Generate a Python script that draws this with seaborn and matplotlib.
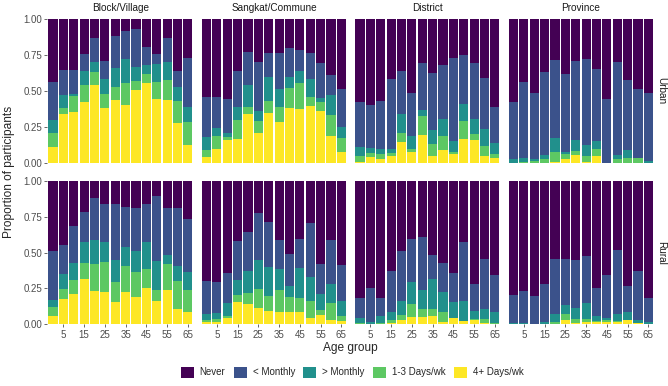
import numpy as np
import pandas as pd
import seaborn as sns
import matplotlib.pyplot as plt
from matplotlib.patches import Patch

# Age groups (bars) and labelled ticks
ages = [0, 5, 10, 15, 20, 25, 30, 35, 40, 45, 50, 55, 60, 65]
tick_ages = [5, 15, 25, 35, 45, 55, 65]

levels = ["Never", "< Monthly", "> Monthly", "1-3 Days/wk", "4+ Days/wk"]
level_colors = ["#440154", "#3B528B", "#21908C", "#5DC863", "#FDE725"]
scales = ["Block/Village", "Sangkat/Commune", "District", "Province"]
areas = ["Urban", "Rural"]

# Cumulative proportion from the bottom, per age group:
# row 0 = 4+ Days/wk, row 1 = +1-3 Days/wk, row 2 = +> Monthly, row 3 = +< Monthly (rest is Never)
urban_village = [
    [0.11, 0.34, 0.35, 0.42, 0.54, 0.38, 0.44, 0.40, 0.51, 0.555, 0.445, 0.44, 0.275, 0.125],
    [0.205, 0.38, 0.465, 0.54, 0.63, 0.48, 0.525, 0.555, 0.57, 0.615, 0.56, 0.575, 0.43, 0.285],
    [0.30, 0.475, 0.48, 0.64, 0.70, 0.58, 0.66, 0.72, 0.67, 0.68, 0.69, 0.70, 0.53, 0.385],
    [0.565, 0.645, 0.645, 0.76, 0.87, 0.71, 0.885, 0.92, 0.93, 0.81, 0.76, 0.87, 0.64, 0.73],
]
urban_commune = [
    [0.037, 0.098, 0.158, 0.167, 0.337, 0.21, 0.344, 0.284, 0.384, 0.372, 0.395, 0.363, 0.188, 0.074],
    [0.088, 0.184, 0.18, 0.30, 0.386, 0.293, 0.428, 0.39, 0.519, 0.558, 0.456, 0.423, 0.333, 0.17],
    [0.177, 0.244, 0.21, 0.386, 0.54, 0.363, 0.595, 0.514, 0.60, 0.642, 0.586, 0.453, 0.472, 0.247],
    [0.46, 0.46, 0.447, 0.64, 0.774, 0.705, 0.763, 0.767, 0.80, 0.786, 0.767, 0.698, 0.609, 0.516],
]
urban_district = [
    [0.007, 0.042, 0.026, 0.047, 0.144, 0.072, 0.195, 0.049, 0.091, 0.058, 0.167, 0.158, 0.049, 0.033],
    [0.047, 0.065, 0.06, 0.065, 0.21, 0.093, 0.323, 0.133, 0.186, 0.077, 0.29, 0.20, 0.116, 0.06],
    [0.112, 0.10, 0.095, 0.098, 0.342, 0.186, 0.367, 0.228, 0.302, 0.153, 0.407, 0.305, 0.237, 0.135],
    [0.42, 0.40, 0.433, 0.58, 0.64, 0.488, 0.693, 0.623, 0.684, 0.73, 0.753, 0.698, 0.59, 0.386],
]
urban_province = [
    [0.0, 0.0, 0.0, 0.0, 0.007, 0.023, 0.053, 0.005, 0.049, 0.0, 0.0, 0.0, 0.0, 0.0],
    [0.0, 0.002, 0.012, 0.028, 0.077, 0.06, 0.084, 0.049, 0.098, 0.0, 0.028, 0.03, 0.033, 0.0],
    [0.028, 0.033, 0.023, 0.051, 0.174, 0.074, 0.158, 0.126, 0.151, 0.0, 0.051, 0.086, 0.035, 0.009],
    [0.42, 0.565, 0.488, 0.635, 0.716, 0.619, 0.709, 0.726, 0.656, 0.444, 0.702, 0.577, 0.514, 0.488],
]
rural_village = [
    [0.06, 0.174, 0.214, 0.316, 0.235, 0.226, 0.156, 0.226, 0.193, 0.251, 0.165, 0.237, 0.105, 0.084],
    [0.119, 0.247, 0.307, 0.43, 0.421, 0.437, 0.293, 0.405, 0.365, 0.388, 0.24, 0.421, 0.30, 0.237],
    [0.172, 0.349, 0.428, 0.574, 0.586, 0.572, 0.449, 0.537, 0.512, 0.572, 0.442, 0.484, 0.405, 0.365],
    [0.512, 0.553, 0.684, 0.786, 0.884, 0.84, 0.84, 0.819, 0.812, 0.837, 0.895, 0.809, 0.814, 0.735],
]
rural_commune = [
    [0.014, 0.019, 0.042, 0.158, 0.14, 0.116, 0.095, 0.084, 0.088, 0.088, 0.047, 0.065, 0.03, 0.023],
    [0.028, 0.035, 0.06, 0.205, 0.221, 0.247, 0.198, 0.24, 0.191, 0.181, 0.165, 0.10, 0.151, 0.058],
    [0.074, 0.081, 0.149, 0.309, 0.374, 0.451, 0.402, 0.384, 0.27, 0.393, 0.333, 0.214, 0.281, 0.163],
    [0.30, 0.298, 0.358, 0.581, 0.647, 0.777, 0.716, 0.591, 0.493, 0.595, 0.709, 0.423, 0.591, 0.414],
]
rural_district = [
    [0.002, 0.0, 0.005, 0.009, 0.03, 0.053, 0.053, 0.058, 0.019, 0.042, 0.021, 0.033, 0.009, 0.005],
    [0.007, 0.005, 0.012, 0.03, 0.065, 0.14, 0.107, 0.105, 0.088, 0.042, 0.026, 0.037, 0.037, 0.009],
    [0.042, 0.014, 0.06, 0.088, 0.163, 0.295, 0.24, 0.319, 0.223, 0.156, 0.163, 0.095, 0.107, 0.088],
    [0.181, 0.251, 0.181, 0.372, 0.514, 0.595, 0.612, 0.486, 0.426, 0.356, 0.572, 0.279, 0.458, 0.344],
]
rural_province = [
    [0.0, 0.0, 0.005, 0.0, 0.0, 0.028, 0.009, 0.019, 0.019, 0.016, 0.019, 0.033, 0.009, 0.0],
    [0.0, 0.0, 0.005, 0.0, 0.014, 0.074, 0.037, 0.037, 0.023, 0.028, 0.026, 0.033, 0.009, 0.0],
    [0.009, 0.009, 0.005, 0.014, 0.072, 0.135, 0.112, 0.147, 0.056, 0.047, 0.07, 0.084, 0.033, 0.014],
    [0.205, 0.233, 0.198, 0.284, 0.453, 0.453, 0.449, 0.479, 0.251, 0.342, 0.516, 0.267, 0.372, 0.181],
]

panels = {
    ("Urban", "Block/Village"): urban_village,
    ("Urban", "Sangkat/Commune"): urban_commune,
    ("Urban", "District"): urban_district,
    ("Urban", "Province"): urban_province,
    ("Rural", "Block/Village"): rural_village,
    ("Rural", "Sangkat/Commune"): rural_commune,
    ("Rural", "District"): rural_district,
    ("Rural", "Province"): rural_province,
}

# long table: cumulative top of every stacked segment
rows = []
for (area, scale), cum in panels.items():
    tops = [[1.0] * len(ages)] + cum[::-1]  # Never, < Monthly, > Monthly, 1-3, 4+
    for lev, t in zip(levels, tops):
        for a, v in zip(ages, t):
            rows.append({"area": area, "scale": scale, "age": a, "level": lev, "top": v})
df = pd.DataFrame(rows)

sns.set_theme(style="white")
plt.rcParams["font.family"] = ["Liberation Sans", "DejaVu Sans"]

fig, axes = plt.subplots(2, 4, figsize=(6.68, 3.86), dpi=100, sharex=True, sharey=True)
fig.subplots_adjust(left=0.070, right=0.980, top=0.950, bottom=0.160, wspace=0.042, hspace=0.128)

grey = "#4D4D4D"
for i, area in enumerate(areas):
    for j, scale in enumerate(scales):
        ax = axes[i, j]
        sub = df[(df.area == area) & (df.scale == scale)]
        # draw from the top segment down so each one covers the part below it
        for lev, col in zip(levels, level_colors):
            d = sub[sub.level == lev]
            sns.barplot(data=d, x="age", y="top", color=col, saturation=1,
                        width=0.88, edgecolor="none", ax=ax, errorbar=None)
        ax.set_xlim(-0.6, 13.6)
        ax.set_ylim(0, 1)
        ax.set_xlabel("")
        ax.set_ylabel("")
        ax.set_xticks([ages.index(a) for a in tick_ages])
        ax.set_xticklabels([str(a) for a in tick_ages])
        ax.set_yticks([0, 0.25, 0.5, 0.75, 1.0])
        ax.set_yticklabels(["0.00", "0.25", "0.50", "0.75", "1.00"])
        ax.tick_params(axis="both", labelsize=7, colors=grey, length=2, width=0.6, pad=1.5)
        ax.tick_params(axis="x", pad=1.8)
        ax.tick_params(axis="both", which="both", left=(j == 0), bottom=(i == 1))
        sns.despine(ax=ax, left=True, bottom=True)
        if i == 0:
            ax.set_title(scale, fontsize=7.2, color="#1A1A1A", pad=6)
        if j == 3:
            ax.text(1.042, 0.5, area, rotation=-90, transform=ax.transAxes,
                    ha="center", va="center", fontsize=7.2, color="#1A1A1A")

fig.text(0.525, 0.099, "Age group", ha="center", va="center", fontsize=8.6)
fig.text(0.014, 0.555, "Proportion of participants", rotation=90, ha="center", va="center", fontsize=8.6)

handles = [Patch(facecolor=c, edgecolor="none", label=l) for l, c in zip(levels, level_colors)]
fig.legend(handles=handles, loc="center", bbox_to_anchor=(0.527, 0.036), ncol=5, frameon=False,
           fontsize=7, handlelength=1.35, handleheight=1.35, handletextpad=0.6, columnspacing=0.85)

fig.savefig("out.png", dpi=100)
